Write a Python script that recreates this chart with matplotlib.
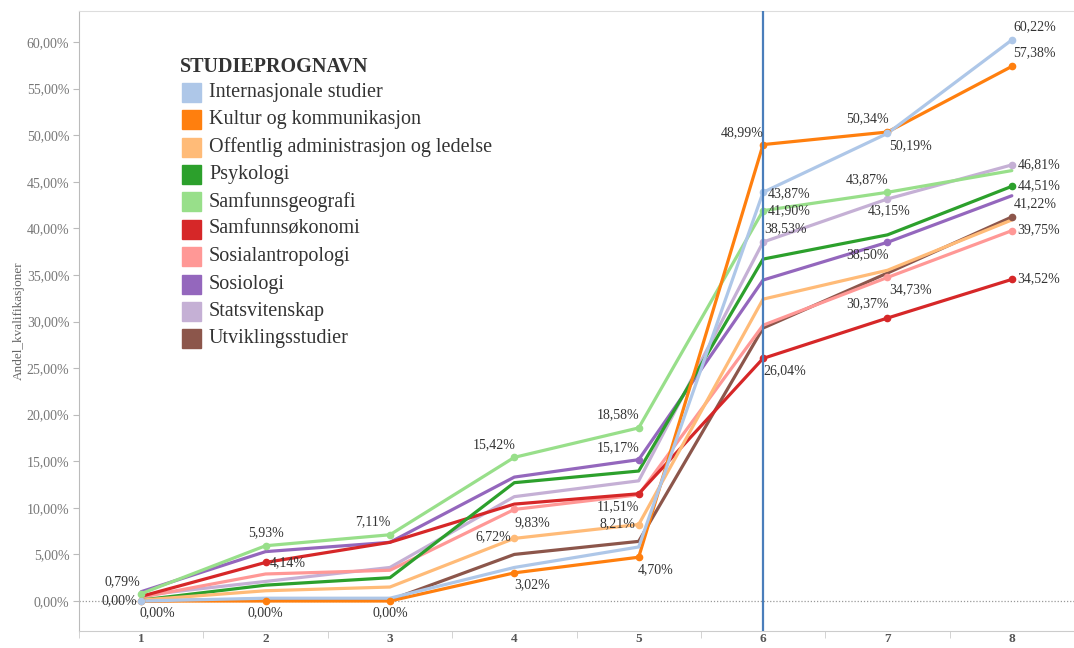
import matplotlib.pyplot as plt
from matplotlib.patches import Rectangle

plt.rcParams['font.family'] = ['Liberation Serif', 'DejaVu Serif']

# Kategorier (x-akse) og serier
kategorier = [1, 2, 3, 4, 5, 6, 7, 8]

programmer = [
    "Internasjonale studier",
    "Kultur og kommunikasjon",
    "Offentlig administrasjon og ledelse",
    "Psykologi",
    "Samfunnsgeografi",
    "Samfunnsøkonomi",
    "Sosialantropologi",
    "Sosiologi",
    "Statsvitenskap",
    "Utviklingsstudier",
]

farger = ["#aec7e8", "#ff7f0e", "#ffbb78", "#2ca02c", "#98df8a",
          "#d62728", "#ff9896", "#9467bd", "#c5b0d5", "#8c564b"]

internasjonale = [0.00, 0.30, 0.30, 3.60, 5.80, 43.87, 50.19, 60.22]
kultur = [0.00, 0.00, 0.00, 3.02, 4.70, 48.99, 50.34, 57.38]
offentlig = [0.10, 1.10, 1.50, 6.72, 8.21, 32.40, 35.50, 40.90]
psykologi = [0.10, 1.70, 2.50, 12.70, 13.95, 36.70, 39.30, 44.51]
samfunnsgeografi = [0.79, 5.93, 7.11, 15.42, 18.58, 41.90, 43.87, 46.20]
samfunnsokonomi = [0.50, 4.14, 6.30, 10.40, 11.51, 26.04, 30.37, 34.52]
sosialantropologi = [0.40, 2.90, 3.30, 9.83, 11.40, 29.60, 34.73, 39.75]
sosiologi = [1.00, 5.30, 6.30, 13.30, 15.17, 34.45, 38.50, 43.50]
statsvitenskap = [0.60, 2.10, 3.60, 11.20, 12.90, 38.53, 43.15, 46.81]
utvikling = [0.00, 0.20, 0.10, 5.00, 6.40, 29.30, 35.20, 41.22]

verdier = [internasjonale, kultur, offentlig, psykologi, samfunnsgeografi,
           samfunnsokonomi, sosialantropologi, sosiologi, statsvitenskap, utvikling]

# Etiketter: (serie, kategori, dx, dy) i piksler fra punktet
etiketter = [
    (4, 1, -19, 12), (1, 1, -22, 0), (0, 1, 16, -12),
    (4, 2, 0, 13), (5, 2, 22, 0), (1, 2, 0, -12),
    (4, 3, -17, 13), (1, 3, 0, -12),
    (4, 4, -20, 13), (6, 4, 18, -13), (2, 4, -21, 2), (1, 4, 18, -12),
    (4, 5, -21, 13), (7, 5, -21, 12), (5, 5, -21, -13), (2, 5, -21, 1), (1, 5, 17, -12),
    (1, 6, -21, 12), (0, 6, 26, -1), (4, 6, 26, 0), (8, 6, 22, 13), (5, 6, 22, -12),
    (1, 7, -20, 13), (0, 7, 23, -12), (4, 7, -20, 13), (8, 7, 2, -12),
    (7, 7, -20, -12), (6, 7, 23, -12), (5, 7, -20, 14),
    (0, 8, 23, 13), (1, 8, 23, 14), (8, 8, 27, 0), (3, 8, 27, 1),
    (9, 8, 23, 13), (6, 8, 27, 1), (5, 8, 27, 1),
]

W, H = 1074, 648
fig = plt.figure(figsize=(W / 100, H / 100), dpi=100)
ax = fig.add_axes([79 / W, 17 / H, 1 - 79 / W, (631 - 11) / H])

for i, (navn, v) in enumerate(zip(programmer, verdier)):
    ax.plot(kategorier, v, color=farger[i], lw=2.3, zorder=20 - i,
            solid_capstyle='round')

for s, k, dx, dy in etiketter:
    v = verdier[s][k - 1]
    ax.plot(k, v, 'o', color=farger[s], ms=4.5, zorder=30 - s)
    tekst = f"{v:.2f}".replace('.', ',') + '%'
    ax.annotate(tekst, (k, v), xytext=(dx, dy), textcoords='offset pixels',
                ha='center', va='center', fontsize=10, color='#333333', zorder=40)

ax.axhline(0, color='#999999', lw=0.9, ls=(0, (1, 1.5)), zorder=1)
ax.axvline(6, color='#4a7ebb', lw=1.6, zorder=35)

ax.set_xlim(0.5, 8.397)
ax.set_ylim(-3.22, 63.33)

ax.set_yticks(range(0, 61, 5))
ax.set_yticklabels([f"{t:.2f}".replace('.', ',') + '%' for t in range(0, 61, 5)])
ax.tick_params(axis='y', length=4, color='#bbbbbb', labelcolor='#777777',
               labelsize=10, pad=3)

ax.set_xticks(kategorier)
ax.set_xticklabels([str(k) for k in kategorier], fontweight='bold')
ax.set_xticks([k + 0.5 for k in [0] + kategorier], minor=True)
ax.tick_params(axis='x', which='major', length=0, labelcolor='#555555',
               labelsize=9.5, pad=1.5)
ax.tick_params(axis='x', which='minor', length=5, color='#cccccc')

ax.spines['right'].set_visible(False)
ax.spines['left'].set_color('#bbbbbb')
ax.spines['bottom'].set_color('#cccccc')
ax.spines['top'].set_color('#dddddd')


def fx(x):
    return x / W


def fy(y):
    return 1 - y / H


fig.text(fx(19), fy(321), "Andel_kvalifikasjoner", rotation=90, fontsize=9.5,
         color='#666666', ha='center', va='center')

# Forklaring
fig.text(fx(180), fy(67), "STUDIEPROGNAVN", fontsize=14.5, fontweight='bold',
         color='#333333', ha='left', va='center')
for i, navn in enumerate(programmer):
    yc = 92.3 + i * 27.4
    fig.add_artist(Rectangle((fx(182), fy(yc + 9.5)), 19 / W, 19 / H,
                             transform=fig.transFigure, color=farger[i]))
    fig.text(fx(209), fy(yc), navn, fontsize=14.5, color='#333333',
             ha='left', va='center')

fig.savefig("out.png", dpi=100)
